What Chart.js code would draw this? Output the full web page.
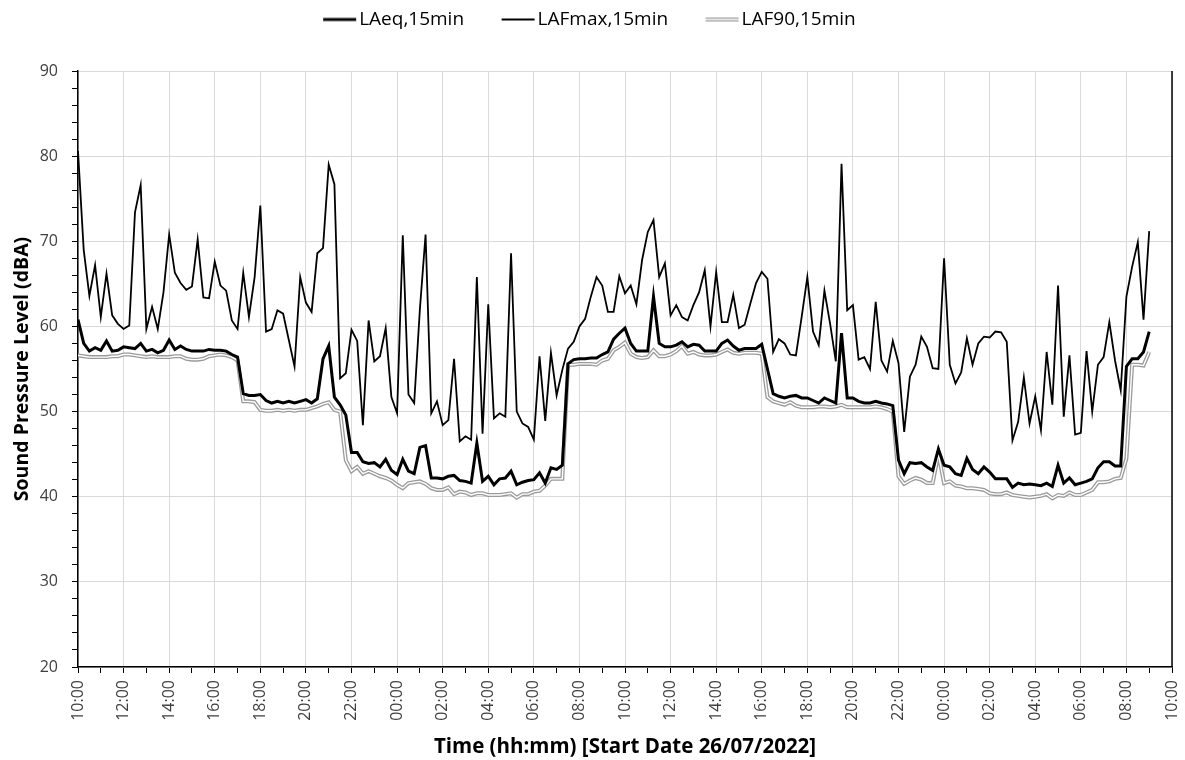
<!DOCTYPE html>
<html>
<head>
<meta charset="utf-8">
<script src="https://cdn.jsdelivr.net/npm/chart.js@4.4.1/dist/chart.umd.min.js"></script>
<style>
  html, body { margin: 0; padding: 0; background: #fff; }
</style>
</head>
<body>
<canvas id="noiseChart" width="1185" height="760"></canvas>
<script>
// 15 minute samples, first one at 10:00 on 26/07/2022
const stepHours = 0.25;

const laeq = [
  60.8, 58.0, 57.1, 57.5, 57.2, 58.3, 57.1, 57.2, 57.6, 57.5, 57.4, 58.0, 57.1, 57.3, 56.9, 57.2,
  58.4, 57.3, 57.7, 57.3, 57.1, 57.1, 57.1, 57.3, 57.2, 57.2, 57.1, 56.7, 56.4, 52.1, 51.9, 51.9,
  52.0, 51.3, 51.0, 51.2, 51.0, 51.2, 51.0, 51.2, 51.4, 51.0, 51.5, 56.2, 57.7, 51.7, 50.8, 49.6,
  45.2, 45.2, 44.1, 43.9, 44.0, 43.5, 44.4, 43.1, 42.6, 44.4, 43.0, 42.7, 45.8, 46.0, 42.2, 42.2,
  42.1, 42.4, 42.5, 41.9, 41.8, 41.6, 46.3, 41.8, 42.4, 41.4, 42.1, 42.2, 43.0, 41.4, 41.7, 41.9,
  42.0, 42.8, 41.6, 43.4, 43.2, 43.7, 55.6, 56.1, 56.2, 56.2, 56.3, 56.3, 56.7, 57.0, 58.5, 59.2,
  59.8, 58.0, 57.1, 57.1, 57.1, 63.5, 58.0, 57.6, 57.6, 57.8, 58.2, 57.6, 57.9, 57.8, 57.1, 57.1,
  57.1, 58.0, 58.4, 57.7, 57.2, 57.4, 57.4, 57.4, 57.9, 55.0, 52.1, 51.8, 51.6, 51.8, 51.9, 51.6,
  51.6, 51.3, 51.0, 51.6, 51.3, 51.0, 59.2, 51.6, 51.6, 51.2, 51.0, 51.0, 51.2, 51.0, 50.9, 50.7,
  44.3, 42.7, 44.0, 43.9, 44.0, 43.5, 43.1, 45.6, 43.7, 43.5, 42.7, 42.5, 44.5, 43.2, 42.7, 43.5,
  42.9, 42.1, 42.1, 42.1, 41.1, 41.6, 41.4, 41.5, 41.4, 41.3, 41.6, 41.2, 43.7, 41.6, 42.2, 41.4,
  41.6, 41.8, 42.1, 43.4, 44.1, 44.1, 43.6, 43.6, 55.3, 56.2, 56.2, 57.0, 59.4
];

const lafmax = [
  80.6, 69.0, 63.6, 67.2, 61.1, 66.2, 61.3, 60.3, 59.7, 60.1, 73.4, 76.6, 59.7, 62.3, 59.7, 64.0,
  70.8, 66.3, 65.1, 64.3, 64.7, 70.2, 63.4, 63.3, 67.6, 64.8, 64.2, 60.7, 59.7, 66.3, 61.1, 65.8,
  74.2, 59.4, 59.7, 61.9, 61.5, 58.4, 55.3, 65.8, 62.8, 61.7, 68.6, 69.2, 79.0, 76.7, 53.9, 54.5,
  59.6, 58.3, 48.4, 60.7, 55.9, 56.5, 59.8, 51.7, 49.8, 70.7, 52.0, 51.0, 62.0, 70.8, 49.8, 51.2,
  48.4, 49.0, 56.2, 46.5, 47.1, 46.7, 65.8, 47.4, 62.6, 49.2, 49.8, 49.4, 68.6, 50.0, 48.6, 48.2,
  46.7, 56.5, 48.9, 56.9, 51.9, 54.9, 57.4, 58.2, 60.0, 60.9, 63.5, 65.8, 64.8, 61.7, 61.7, 65.9,
  63.9, 64.8, 62.6, 67.8, 71.1, 72.5, 65.8, 67.4, 61.3, 62.5, 61.1, 60.7, 62.5, 64.0, 66.6, 60.0,
  66.4, 60.5, 60.5, 63.7, 59.8, 60.2, 62.7, 65.1, 66.4, 65.6, 57.0, 58.5, 58.0, 56.7, 56.6, 61.1,
  65.8, 59.4, 57.8, 64.2, 60.3, 55.9, 79.1, 61.9, 62.5, 56.1, 56.4, 55.0, 62.9, 56.0, 54.7, 58.3,
  55.7, 47.6, 54.1, 55.5, 58.8, 57.6, 55.1, 55.0, 68.0, 55.5, 53.3, 54.6, 58.6, 55.5, 58.0, 58.8,
  58.7, 59.4, 59.3, 58.2, 46.6, 48.8, 54.0, 48.6, 51.8, 47.8, 57.0, 50.8, 64.8, 49.4, 56.6, 47.3,
  47.5, 57.1, 50.0, 55.5, 56.4, 60.5, 56.0, 52.5, 63.5, 67.0, 69.9, 60.8, 71.2
];

const laf90 = [
  56.6, 56.5, 56.4, 56.4, 56.4, 56.4, 56.5, 56.5, 56.7, 56.7, 56.6, 56.5, 56.4, 56.5, 56.4, 56.4,
  56.4, 56.5, 56.5, 56.2, 56.1, 56.1, 56.2, 56.5, 56.6, 56.7, 56.6, 56.4, 56.0, 51.2, 51.2, 51.1,
  50.2, 50.1, 50.1, 50.2, 50.1, 50.2, 50.1, 50.2, 50.2, 50.4, 50.6, 50.9, 51.1, 50.2, 50.0, 44.3,
  43.0, 43.5, 42.7, 43.0, 42.7, 42.4, 42.2, 41.9, 41.4, 41.0, 41.6, 41.7, 41.8, 41.5, 41.0, 40.8,
  40.8, 41.1, 40.3, 40.6, 40.5, 40.2, 40.4, 40.4, 40.2, 40.2, 40.2, 40.3, 40.4, 39.9, 40.3, 40.3,
  40.6, 40.7, 41.3, 42.1, 42.1, 42.1, 55.5, 55.5, 55.6, 55.6, 55.6, 55.5, 56.0, 56.2, 57.2, 57.6,
  58.1, 56.8, 56.4, 56.3, 56.4, 57.2, 56.5, 56.5, 56.7, 57.1, 57.7, 56.8, 57.0, 56.7, 56.6, 56.6,
  56.7, 57.0, 57.3, 56.9, 56.8, 56.9, 56.9, 56.9, 56.8, 51.7, 51.2, 51.0, 50.8, 51.1, 50.7, 50.5,
  50.5, 50.5, 50.6, 50.6, 50.5, 50.6, 50.8, 50.5, 50.5, 50.5, 50.5, 50.5, 50.6, 50.5, 50.3, 50.0,
  42.4, 41.5, 41.9, 42.2, 42.0, 41.6, 41.6, 45.0, 41.6, 41.8, 41.3, 41.2, 41.0, 41.0, 40.9, 40.8,
  40.4, 40.3, 40.3, 40.5, 40.2, 40.1, 40.0, 39.9, 40.0, 40.1, 40.3, 39.8, 40.2, 40.1, 40.5, 40.2,
  40.2, 40.5, 40.8, 41.7, 41.7, 41.8, 42.1, 42.2, 44.5, 55.5, 55.5, 55.4, 57.0
];

const seriesNames = ['LAeq,15min', 'LAFmax,15min', 'LAF90,15min'];
const xTickLabels = [
  '10:00', '12:00', '14:00', '16:00', '18:00', '20:00', '22:00', '00:00', '02:00', '04:00',
  '06:00', '08:00', '10:00', '12:00', '14:00', '16:00', '18:00', '20:00', '22:00', '00:00',
  '02:00', '04:00', '06:00', '08:00', '10:00'
];
const yTickLabels = [20, 30, 40, 50, 60, 70, 80, 90];

const toPoints = arr => arr.map((v, i) => ({ x: i * stepHours, y: v }));

// legend swatches: transparent lead-in on the left gives the gap between entries
const swatchBox = 56;
function swatch(kind) {
  const c = document.createElement('canvas');
  c.width = swatchBox + 15; c.height = 8;
  const g = c.getContext('2d');
  const line = (color, w) => {
    g.strokeStyle = color; g.lineWidth = w;
    g.beginPath(); g.moveTo(c.width - 34, 4); g.lineTo(c.width - 1, 4); g.stroke();
  };
  if (kind === 'hollow') { line('#9a9a9a', 4); line('#fff', 1.5); }
  else line('#000', kind === 'thick' ? 3 : 1.8);
  return c;
}
const swatches = [swatch('thick'), swatch('thin'), swatch('hollow')];
// blank tail on the last entry balances the lead-in so the row sits centred
const legendTail = '      ';

const rightEdge = {
  id: 'rightEdge',
  afterDatasetsDraw(chart) {
    const { ctx, chartArea } = chart;
    ctx.save();
    ctx.strokeStyle = '#000';
    ctx.lineWidth = 1.5;
    ctx.beginPath();
    ctx.moveTo(chartArea.right, chartArea.top);
    ctx.lineTo(chartArea.right, chartArea.bottom);
    ctx.stroke();
    ctx.restore();
  }
};

const ctx = document.getElementById('noiseChart').getContext('2d');
new Chart(ctx, {
  type: 'line',
  data: {
    datasets: [
      { label: seriesNames[0], data: toPoints(laeq), borderColor: '#000', borderWidth: 3, order: 0 },
      { label: seriesNames[1], data: toPoints(lafmax), borderColor: '#000', borderWidth: 1.8, order: 1 },
      { label: seriesNames[2], data: toPoints(laf90), borderColor: '#9a9a9a', borderWidth: 4, order: 3 },
      { label: 'inner', data: toPoints(laf90), borderColor: '#fff', borderWidth: 1.4, order: 2 }
    ]
  },
  options: {
    responsive: false,
    animation: false,
    parsing: false,
    elements: { point: { radius: 0 }, line: { tension: 0, fill: false } },
    layout: { padding: { left: 7, right: 13, top: 2, bottom: 0 } },
    plugins: {
      tooltip: { enabled: false },
      legend: {
        position: 'top',
        labels: {
          usePointStyle: true,
          pointStyleWidth: swatchBox,
          padding: 8,
          color: '#404040',
          font: { family: 'Open Sans', size: 19 },
          generateLabels: () => seriesNames.map((name, i) => ({
            text: i === seriesNames.length - 1 ? name + legendTail : name,
            pointStyle: swatches[i], datasetIndex: i,
            hidden: false, lineWidth: 0, strokeStyle: 'transparent', fillStyle: 'transparent'
          }))
        }
      },
      // empty spacer between legend and plot
      subtitle: {
        display: true, text: '', position: 'top', weight: 500,
        font: { size: 10 }, padding: { top: 10, bottom: 10 }
      }
    },
    scales: {
      x: {
        type: 'linear',
        min: 0,
        max: 48,
        border: { color: '#000', width: 1.5 },
        grid: {
          color: c => (c.tick && c.tick.value % 2 === 0) ? '#d9d9d9' : 'rgba(0,0,0,0)',
          tickColor: '#000',
          tickLength: 6
        },
        ticks: {
          stepSize: 1,
          autoSkip: false,
          maxRotation: 90,
          minRotation: 90,
          padding: 7,
          color: '#404040',
          font: { family: 'Open Sans', size: 16 },
          callback: v => (v % 2 === 0) ? xTickLabels[v / 2] : ''
        },
        title: {
          display: true,
          text: 'Time (hh:mm) [Start Date 26/07/2022]',
          color: '#000',
          font: { family: 'Open Sans', size: 20.5, weight: 'bold' },
          padding: { top: 4, bottom: 1 }
        },
        afterFit: s => { s.height = 93; s.paddingLeft = 0; s.paddingRight = 0; }
      },
      y: {
        min: 20,
        max: 90,
        border: { color: '#000', width: 1.5 },
        grid: {
          color: c => (c.tick && c.tick.value % 10 === 0) ? '#d9d9d9' : 'rgba(0,0,0,0)',
          tickColor: '#000',
          tickLength: 6
        },
        ticks: {
          stepSize: 2,
          autoSkip: false,
          padding: 14,
          color: '#404040',
          font: { family: 'Open Sans', size: 16 },
          callback: v => yTickLabels.includes(v) ? String(v) : ''
        },
        title: {
          display: true,
          text: 'Sound Pressure Level (dBA)',
          color: '#000',
          font: { family: 'Open Sans', size: 19.5, weight: 'bold' },
          padding: { top: 4, bottom: 4 }
        },
        afterFit: s => { s.width = 71; }
      }
    }
  },
  plugins: [rightEdge]
});
</script>
</body>
</html>
